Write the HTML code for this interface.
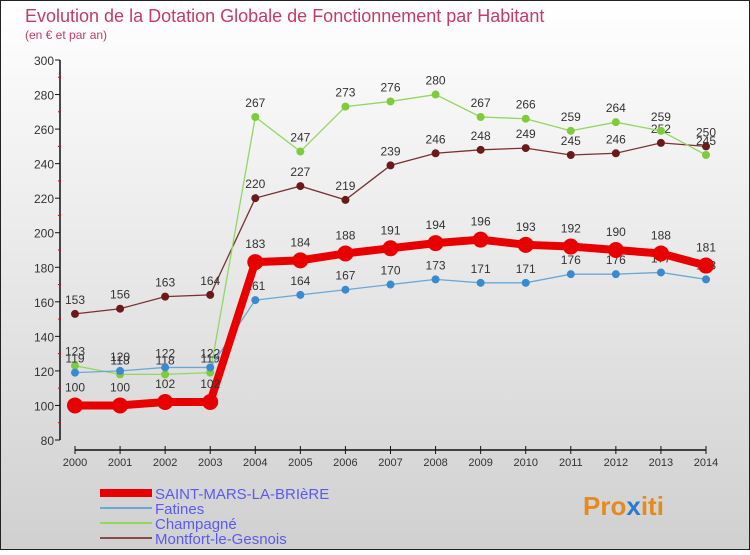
<!DOCTYPE html>
<html><head><meta charset="utf-8"><style>
body{margin:0;width:750px;height:550px;overflow:hidden;font-family:"Liberation Sans",sans-serif}
svg text{font-family:"Liberation Sans",sans-serif}
</style></head><body>
<svg id="c" width="750" height="550" viewBox="0 0 750 550">
<defs><linearGradient id="bg" x1="0" y1="0" x2="0" y2="1"><stop offset="0" stop-color="#ffffff"/><stop offset="1" stop-color="#d0d0d0"/></linearGradient></defs>
<rect x="0.5" y="0.5" width="749" height="549" fill="url(#bg)" stroke="#222"/>
<text x="25" y="22" font-size="18" fill="#c43a6a">Evolution de la Dotation Globale de Fonctionnement par Habitant</text>
<text x="25" y="39" font-size="12" fill="#c43a6a">(en € et par an)</text>
<g id="axes"></g><g id="series"></g><g id="legend"></g>
<text x="583" y="515" font-size="26" font-weight="bold" fill="#e58a1e">Pro<tspan fill="#2a7bd0">x</tspan>iti</text>
</svg>
<script>
const years=[2000,2001,2002,2003,2004,2005,2006,2007,2008,2009,2010,2011,2012,2013,2014];
const yTicks=[80,100,120,140,160,180,200,220,240,260,280,300];
const saintMars=[100,100,102,102,183,184,188,191,194,196,193,192,190,188,181];
const fatines=[119,120,122,122,161,164,167,170,173,171,171,176,176,177,173];
const champagne=[123,118,118,119,267,247,273,276,280,267,266,259,264,259,245];
const montfort=[153,156,163,164,220,227,219,239,246,248,249,245,246,252,250];
const NS="http://www.w3.org/2000/svg";
const X=i=>75+i*(706-75)/14;
const Y=v=>440-(v-80)*380/220;
function mk(t,a,p,txt){const e=document.createElementNS(NS,t);for(const k in a)e.setAttribute(k,a[k]);if(txt!==undefined)e.textContent=txt;p.appendChild(e);return e;}
const ax=document.getElementById('axes');
let e=mk('line',{x1:60,y1:Y(300),x2:60,y2:440,stroke:'#111','stroke-width':1.5},ax);


e=mk('line',{x1:75,y1:450,x2:706,y2:450,stroke:'#111','stroke-width':1.5},ax);


yTicks.forEach(v=>{mk('line',{x1:55,y1:Y(v),x2:60,y2:Y(v),stroke:'#111'},ax);
if(v<300)mk('line',{x1:58,y1:Y(v+10),x2:61,y2:Y(v+10),stroke:'#e00'},ax);
const t=mk('text',{x:54,y:Y(v)+5,'font-size':12,fill:'#333','text-anchor':'end'},ax,v);

});
years.forEach((y,i)=>{mk('line',{x1:X(i),y1:446,x2:X(i),y2:454,stroke:'#111'},ax);
const t=mk('text',{x:X(i),y:466,'font-size':11,fill:'#333','text-anchor':'middle'},ax,y);

});
const sg=document.getElementById('series');
const series=[
{n:'montfort',d:montfort,c:'#6b1a1a',lc:'#7a3030',w:1.3,r:4},
{n:'champagne',d:champagne,c:'#7ccc3c',lc:'#90d860',w:1.3,r:4},
{n:'fatines',d:fatines,c:'#3a8ad0',lc:'#6aa8d8',w:1.3,r:4},
{n:'saint-mars',d:saintMars,c:'#e80000',lc:'#e80000',w:8,r:8}];
series.forEach(s=>{const g=mk('g',{},sg);


const l=mk('polyline',{points:s.d.map((v,i)=>X(i)+','+Y(v)).join(' '),fill:'none',stroke:s.lc,'stroke-width':s.w},g);


s.d.forEach((v,i)=>{const p=mk('circle',{cx:X(i),cy:Y(v),r:s.r,fill:s.c},g);


const t=mk('text',{x:X(i),y:Y(v)-(s.r+6),'font-size':12,fill:'#333','text-anchor':'middle'},g,v);

});});
const lg=document.getElementById('legend');
const leg=[['SAINT-MARS-LA-BRIèRE','#e80000',8],['Fatines','#6aa8d8',2],['Champagné','#90d860',2],['Montfort-le-Gesnois','#8a4a4a',2]];
leg.forEach((l,i)=>{const y=493+i*15;
const ln=mk('line',{x1:100,y1:y,x2:152,y2:y,stroke:l[1],'stroke-width':l[2]},lg);


const t=mk('text',{x:155,y:y+6,'font-size':15,fill:'#5a5af0'},lg,l[0]);

});
</script>
</body></html>
